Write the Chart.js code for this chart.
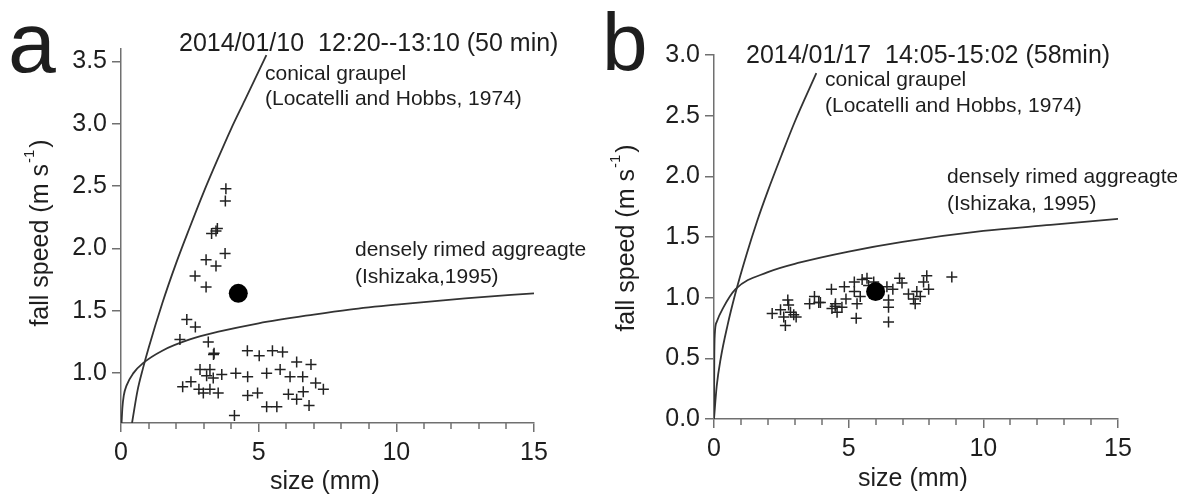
<!DOCTYPE html>
<html>
<head>
<meta charset="utf-8">
<title>fall speed vs size</title>
<script src="https://cdn.jsdelivr.net/npm/chart.js@4.4.1/dist/chart.umd.min.js"></script>
<style>
  html, body { margin: 0; padding: 0; background: #fff; }
  #wrap { position: relative; width: 1177px; height: 495px; overflow: hidden; }
  canvas { position: absolute; top: 0; }
  #chartA { left: 0; }
  #chartB { left: 590px; }
</style>
</head>
<body>
<div id="wrap">
  <canvas id="chartA" width="590" height="495"></canvas>
  <canvas id="chartB" width="587" height="495"></canvas>
</div>
<script>
/* ========= Data ========= */
const xTicks = [0, 5, 10, 15];
const yTicksA = [1.0, 1.5, 2.0, 2.5, 3.0, 3.5];
const yTicksB = [0.0, 0.5, 1.0, 1.5, 2.0, 2.5, 3.0];

// panel a: 2014/01/10
const graupelSizeA = [0.4, 0.6, 0.8, 1.0, 1.5, 2.0, 2.5, 3.0, 3.5, 4.0, 4.5, 5.28];
const graupelSpeedA = [0.6, 0.86, 1.04, 1.2, 1.56, 1.88, 2.17, 2.45, 2.71, 2.96, 3.19, 3.55];
const rimedSizeA = [0.02, 0.05, 0.1, 0.2, 0.45, 0.8, 1.5, 2.5, 3.5, 5, 7, 8.3, 10, 12.5, 15];
const rimedSpeedA = [0.6, 0.72, 0.82, 0.9, 1.0, 1.08, 1.18, 1.27, 1.33, 1.4, 1.47, 1.51, 1.55, 1.6, 1.64];
const obsSizeA = [3.81, 3.79, 3.50, 3.45, 3.29, 3.78, 3.09, 3.45, 2.69, 3.09, 2.39, 2.70, 2.14, 3.17, 3.38, 3.36,
  4.59, 5.02, 5.50, 5.87, 6.38, 6.90, 2.87, 3.23, 3.11, 3.35, 3.66, 4.17, 4.60, 5.29, 5.78, 6.14, 6.60, 7.07,
  7.35, 2.24, 2.54, 2.83, 2.99, 3.23, 3.53, 4.60, 4.96, 6.08, 6.38, 6.62, 5.29, 5.66, 6.83, 4.12];
const obsSpeedA = [2.48, 2.38, 2.16, 2.14, 2.12, 1.96, 1.91, 1.86, 1.78, 1.69, 1.43, 1.37, 1.27, 1.25, 1.16, 1.15,
  1.18, 1.14, 1.18, 1.17, 1.09, 1.07, 1.03, 1.03, 0.98, 0.96, 0.99, 1.00, 0.97, 1.00, 1.03, 0.97, 0.97, 0.92,
  0.87, 0.89, 0.93, 0.87, 0.84, 0.87, 0.84, 0.82, 0.84, 0.83, 0.79, 0.85, 0.73, 0.73, 0.74, 0.66];
const meanSizeA = [4.26];
const meanSpeedA = [1.64];

// panel b: 2014/01/17
const graupelSizeB = [0, 0.1, 0.25, 0.5, 0.8, 1.2, 1.6, 2.0, 2.5, 3.0, 3.8];
const graupelSpeedB = [0, 0.27, 0.5, 0.77, 1.04, 1.35, 1.63, 1.88, 2.17, 2.45, 2.85];
const rimedSizeB = [0, 0.01, 0.03, 0.1, 0.35, 0.8, 2, 3.2, 5, 7, 10, 12.5, 15];
const rimedSpeedB = [0, 0.48, 0.7, 0.8, 0.92, 1.07, 1.21, 1.29, 1.38, 1.46, 1.55, 1.6, 1.65];
const obsSizeB = [2.16, 2.47, 2.74, 2.77, 2.84, 2.96, 3.05, 2.65, 2.59, 3.55, 3.73, 3.89, 4.36, 4.38, 4.51, 4.57,
  4.75, 4.84, 4.90, 5.21, 5.21, 5.31, 5.43, 5.28, 5.68, 5.74, 5.93, 6.42, 6.48, 6.48, 6.48, 6.64, 6.89, 6.98,
  7.22, 7.41, 7.53, 7.47, 7.66, 7.78, 7.90, 7.97, 8.83, 4.5, 5.5, 3.95];
const obsSpeedB = [0.87, 0.90, 0.98, 0.94, 0.88, 0.86, 0.84, 0.77, 0.84, 0.95, 1.01, 0.96, 1.07, 0.91, 0.95, 0.88,
  0.92, 1.09, 0.99, 1.13, 1.05, 0.95, 1.01, 0.83, 1.16, 1.10, 1.13, 1.09, 0.98, 0.92, 0.80, 1.07, 1.16, 1.12,
  1.03, 0.99, 1.05, 0.95, 1.01, 1.13, 1.18, 1.07, 1.17, 0.93, 1.15, 0.96];
const meanSizeB = [6.0];
const meanSpeedB = [1.05];


/* ========= Helpers ========= */
const FONT = "'Liberation Sans', Arial, sans-serif";
const TEXT = '#1e1e1e';
const AXIS = '#707070';
const CURVE = '#333333';

function zip(xs, ys) {
  return xs.map((x, i) => ({ x: x, y: ys[i] }));
}

// titles, annotations, panel letter, y title with superscript, minor x ticks
const decor = {
  id: 'decor',
  afterDraw(chart, args, opts) {
    const ctx = chart.ctx;
    const xs = chart.scales.x;
    ctx.save();

    // minor ticks every 1 mm
    ctx.strokeStyle = AXIS;
    ctx.lineWidth = 1.5;
    for (let v = 1; v < 15; v++) {
      if (v % 5 === 0) continue;
      const px = Math.round(xs.getPixelForValue(v));
      ctx.beginPath();
      ctx.moveTo(px, chart.chartArea.bottom);
      ctx.lineTo(px, chart.chartArea.bottom + 6);
      ctx.stroke();
    }

    ctx.fillStyle = TEXT;
    ctx.textBaseline = 'alphabetic';
    ctx.textAlign = 'left';
    (opts.items || []).forEach(t => {
      ctx.font = t.size + 'px ' + FONT;
      ctx.fillText(t.text, t.x, t.y);
    });

    // y axis title, rotated
    const yt = opts.yTitle;
    ctx.translate(yt.x, yt.y);
    ctx.rotate(-Math.PI / 2);
    ctx.font = yt.size + 'px ' + FONT;
    const main = 'fall speed (m s';
    const w1 = ctx.measureText(main).width;
    ctx.font = Math.round(yt.size * 0.6) + 'px ' + FONT;
    const w2 = ctx.measureText('-1').width;
    ctx.font = yt.size + 'px ' + FONT;
    const w3 = ctx.measureText(')').width;
    const total = w1 + w2 + 3 + w3;
    let x0 = -total / 2;
    ctx.fillText(main, x0, 0);
    ctx.font = Math.round(yt.size * 0.6) + 'px ' + FONT;
    ctx.fillText('-1', x0 + w1 + 1, -yt.size * 0.55);
    ctx.font = yt.size + 'px ' + FONT;
    ctx.fillText(')', x0 + w1 + w2 + 3, 0);

    ctx.restore();
  }
};

function buildPanel(id, p) {
  return new Chart(document.getElementById(id), {
    type: 'scatter',
    data: {
      datasets: [
        { data: zip(p.meanX, p.meanY), pointStyle: 'circle', pointRadius: 9.5, backgroundColor: '#000', borderColor: '#000', borderWidth: 0 },
        { data: zip(p.obsX, p.obsY), pointStyle: 'cross', pointRadius: 5.5, borderColor: '#222', borderWidth: 1.5 },
        { data: zip(p.grX, p.grY), showLine: true, pointRadius: 0, borderColor: CURVE, borderWidth: 1.8, cubicInterpolationMode: 'monotone' },
        { data: zip(p.drX, p.drY), showLine: true, pointRadius: 0, borderColor: CURVE, borderWidth: 1.8, cubicInterpolationMode: 'monotone' }
      ]
    },
    options: {
      responsive: false,
      animation: false,
      devicePixelRatio: 1,
      layout: { padding: p.pad },
      plugins: {
        legend: { display: false },
        tooltip: { enabled: false },
        decor: { items: p.texts, yTitle: p.yTitle }
      },
      scales: {
        x: {
          type: 'linear', min: 0, max: 15,
          afterBuildTicks: s => { s.ticks = xTicks.map(v => ({ value: v })); },
          afterFit: s => { s.height = p.xH; },
          ticks: { color: TEXT, font: { family: FONT, size: 25 }, padding: 6, maxRotation: 0, autoSkip: false },
          grid: { drawOnChartArea: false, tickLength: 9, color: AXIS, lineWidth: 1.5 },
          border: { color: AXIS, width: 1.5 }
        },
        y: {
          type: 'linear', min: p.yMin, max: p.yMax,
          afterBuildTicks: s => { s.ticks = p.yTicks.map(v => ({ value: v })); },
          afterFit: s => { s.width = p.yW; },
          ticks: { color: TEXT, font: { family: FONT, size: 25 }, padding: 5, callback: v => v.toFixed(1) },
          grid: { drawOnChartArea: false, tickLength: 9, color: AXIS, lineWidth: 1.5 },
          border: { color: AXIS, width: 1.5 }
        }
      }
    },
    plugins: [decor]
  });
}


/* ========= Panels ========= */
buildPanel('chartA', {
  meanX: meanSizeA, meanY: meanSpeedA, obsX: obsSizeA, obsY: obsSpeedA,
  grX: graupelSizeA, grY: graupelSpeedA, drX: rimedSizeA, drY: rimedSpeedA,
  yMin: 0.6, yMax: 3.6, yTicks: yTicksA,
  pad: { left: 0, right: 56, top: 49, bottom: 0 }, yW: 121, xH: 72,
  yTitle: { x: 48, y: 233, size: 25 },
  texts: [
    { text: 'a', x: 8, y: 72, size: 86 },
    { text: '2014/01/10  12:20--13:10 (50 min)', x: 179, y: 51, size: 25 },
    { text: 'conical graupel', x: 265, y: 80, size: 21 },
    { text: '(Locatelli and Hobbs, 1974)', x: 265, y: 105, size: 21 },
    { text: 'densely rimed aggreagte', x: 355, y: 256, size: 21 },
    { text: '(Ishizaka,1995)', x: 355, y: 283, size: 21 },
    { text: 'size (mm)', x: 270, y: 489, size: 25 }
  ]
});

buildPanel('chartB', {
  meanX: meanSizeB, meanY: meanSpeedB, obsX: obsSizeB, obsY: obsSpeedB,
  grX: graupelSizeB, grY: graupelSpeedB, drX: rimedSizeB, drY: rimedSpeedB,
  yMin: 0, yMax: 3.0, yTicks: yTicksB,
  pad: { left: 0, right: 59, top: 55, bottom: 0 }, yW: 124, xH: 76,
  yTitle: { x: 44, y: 238, size: 25 },
  texts: [
    { text: 'b', x: 12, y: 70, size: 82 },
    { text: '2014/01/17  14:05-15:02 (58min)', x: 156, y: 63, size: 25 },
    { text: 'conical graupel', x: 235, y: 86, size: 21 },
    { text: '(Locatelli and Hobbs, 1974)', x: 235, y: 112, size: 21 },
    { text: 'densely rimed aggreagte', x: 357, y: 183, size: 21 },
    { text: '(Ishizaka, 1995)', x: 357, y: 210, size: 21 },
    { text: 'size (mm)', x: 268, y: 486, size: 25 }
  ]
});
</script>
</body>
</html>
